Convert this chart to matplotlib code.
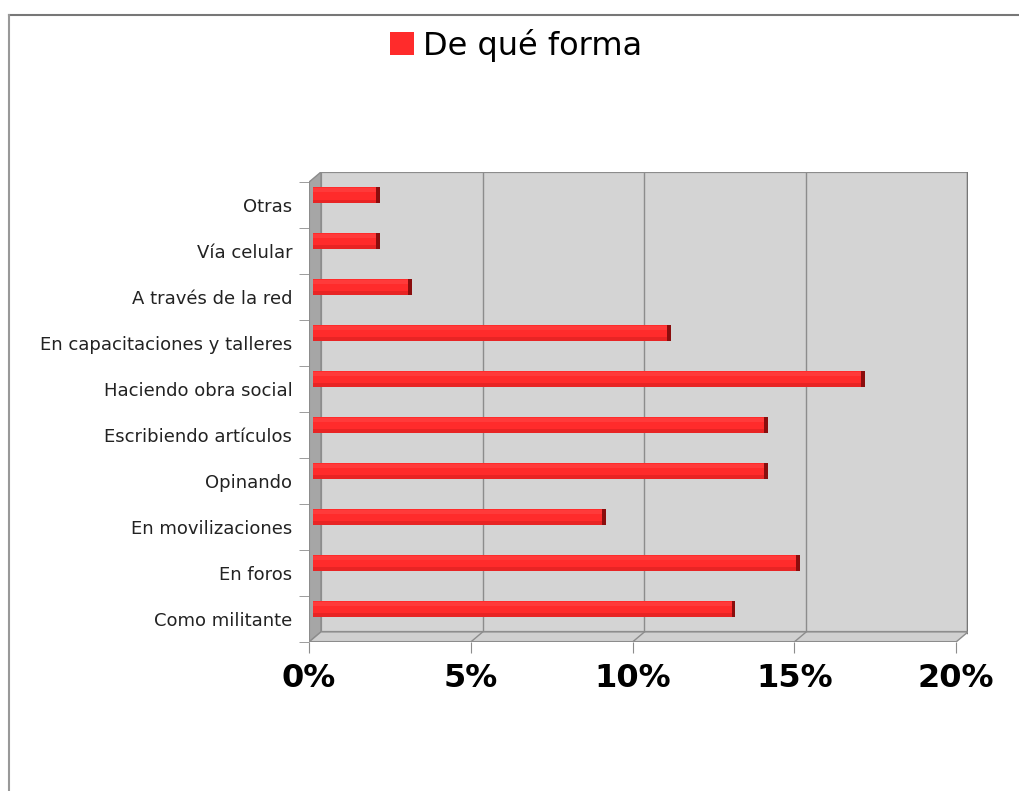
import matplotlib
matplotlib.use("Agg")
import matplotlib.pyplot as plt
from matplotlib.patches import Polygon, Rectangle, Patch
from matplotlib.lines import Line2D
import numpy as np

# survey answers, bottom to top
categories = ["Como militante", "En foros", "En movilizaciones", "Opinando",
              "Escribiendo artículos", "Haciendo obra social",
              "En capacitaciones y talleres", "A través de la red",
              "Vía celular", "Otras"]
percent = [13, 15, 9, 14, 14, 17, 11, 3, 2, 2]
xticks = [0, 5, 10, 15, 20]
series_name = "De qué forma"

RED = "#ff2b2b"
DARK_RED = "#8a0d0d"

# depth of the fake 3d box (data units)
dx, dy = 0.37, 0.22
bar_shift = 0.12
bar_h = 0.35

fig = plt.figure(figsize=(10.19, 7.91), dpi=100)
ax = fig.add_axes([309 / 1019, 1 - 642 / 791, 659 / 1019, 470 / 791])
ax.set_xlim(0, 20 + dx)
ax.set_ylim(-0.5, 9.5 + dy)
ax.patch.set_visible(False)
for s in ax.spines.values():
    s.set_visible(False)

n = len(categories)
y = np.arange(n)
top = n - 0.5

# back wall, side wall and floor
ax.add_patch(Rectangle((dx, -0.5 + dy), 20, n, facecolor="#d4d4d4",
                       edgecolor="#8c8c8c", lw=1.6, zorder=0))
ax.plot([20 + dx, 20 + dx], [-0.5 + dy, top + dy], color="#777777", lw=2.5, zorder=0.6)
ax.add_patch(Polygon([(0, -0.5), (dx, -0.5 + dy), (dx, top + dy), (0, top)],
                     facecolor="#a6a6a6", edgecolor="#8c8c8c", lw=1, zorder=1))
ax.add_patch(Polygon([(0, -0.5), (20, -0.5), (20 + dx, -0.5 + dy), (dx, -0.5 + dy)],
                     facecolor="#d0d0d0", edgecolor="#8c8c8c", lw=1, zorder=1))
for gx in xticks[1:-1]:
    ax.plot([gx + dx, gx + dx], [-0.5 + dy, top + dy], color="#8c8c8c", lw=1, zorder=0.5)
    ax.plot([gx, gx + dx], [-0.5, -0.5 + dy], color="#8c8c8c", lw=1, zorder=1.5)
ax.plot([0, 20], [-0.5, -0.5], color="#8c8c8c", lw=1.5, zorder=2)
ax.plot([0, 0], [-0.5, top], color="#8c8c8c", lw=1.5, zorder=2)

# bars with a soft top highlight and a dark end face
yb = y + dy
ax.barh(yb, percent, left=bar_shift, height=bar_h, color=RED, edgecolor="none", zorder=3)
ax.barh(yb + bar_h * 0.32, percent, left=bar_shift, height=bar_h * 0.25,
        color="#ff3a3a", edgecolor="none", zorder=3.1)
ax.barh(yb - bar_h * 0.38, percent, left=bar_shift, height=bar_h * 0.2,
        color="#e82424", edgecolor="none", zorder=3.1)
ax.barh(yb, 0.12, left=np.array(percent) + bar_shift - 0.06, height=bar_h,
        color=DARK_RED, edgecolor="none", zorder=3.2)

ax.set_xticks(xticks)
ax.set_xticklabels([f"{v}%" for v in xticks], fontsize=23, fontweight="bold")
ax.tick_params(axis="x", length=8, color="#8c8c8c", pad=7)

ax.set_yticks(y)
ax.set_yticklabels(categories, fontsize=13, color="#222222")
ax.set_yticks(np.arange(-0.5, n, 1), minor=True)
ax.tick_params(axis="y", which="major", length=0, pad=12)
ax.tick_params(axis="y", which="minor", length=7, color="#8c8c8c")

fig.legend(handles=[Patch(facecolor=RED, edgecolor="none", label=series_name)],
           loc="center", bbox_to_anchor=(516 / 1019, 1 - 45 / 791),
           frameon=False, fontsize=23, handlelength=0.75, handleheight=0.75,
           handletextpad=0.3)

# thin frame around the chart area
fig.add_artist(Line2D([9 / 1019, 1], [1 - 15 / 791, 1 - 15 / 791], color="#777777", lw=1.5))
fig.add_artist(Line2D([9 / 1019, 9 / 1019], [0, 1 - 15 / 791], color="#999999", lw=1.5))

fig.savefig("out.png", dpi=100)
